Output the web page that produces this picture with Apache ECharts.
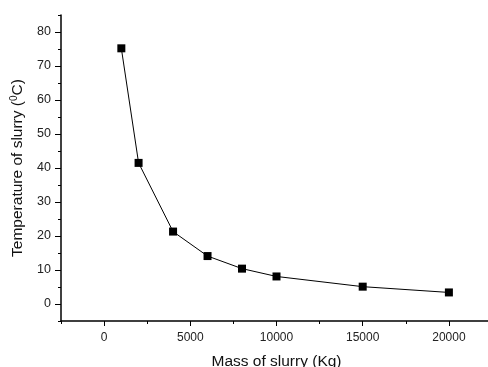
<!DOCTYPE html>
<html>
<head>
<meta charset="utf-8">
<script src="https://cdn.jsdelivr.net/npm/echarts@6/dist/echarts.min.js"></script>
<style>
  html, body { margin: 0; padding: 0; background: #fff; }
  #chart { width: 488px; height: 367px; }
</style>
</head>
<body>
<div id="chart"></div>
<script>
// mass of slurry (kg) vs temperature of slurry (°C)
const massKg = [1000, 2000, 4000, 6000, 8000, 10000, 15000, 20000]
const tempC = [75.2, 41.5, 21.3, 14.1, 10.4, 8.1, 5.1, 3.4]

const xMajorTicks = [0, 5000, 10000, 15000, 20000]
const xMinorTicks = [-2500, 2500, 7500, 12500, 17500]
const yMajorTicks = [0, 10, 20, 30, 40, 50, 60, 70, 80]
const yMinorTicks = [-5, 5, 15, 25, 35, 45, 55, 65, 75, 85]

const font = 'Liberation Sans, Arial, sans-serif'
const axisCol = '#000'

const chart = echarts.init(document.getElementById('chart'), null, { renderer: 'canvas' })

const xBase = { type: 'value', min: -2500, max: 22500, position: 'bottom', splitLine: { show: false } }
const yBase = { type: 'value', min: -5, max: 85, position: 'left', splitLine: { show: false } }

chart.setOption({
  animation: false,
  backgroundColor: '#fff',
  grid: { left: 61, right: -4, top: 15, bottom: 46, outerBoundsMode: 'none', containLabel: false },
  xAxis: [
    {
      ...xBase,
      name: 'Mass of slurry (Kg)',
      nameLocation: 'middle',
      nameGap: 33,
      nameTextStyle: { fontFamily: font, fontSize: 15.5, color: '#111' },
      axisLine: { onZero: false, lineStyle: { color: axisCol, width: 1.5 } },
      axisTick: { inside: false, length: 5, customValues: xMajorTicks, lineStyle: { color: axisCol } },
      axisLabel: {
        customValues: xMajorTicks,
        margin: 11,
        fontFamily: font,
        fontSize: 12,
        color: '#222',
        formatter: (v) => String(v),
      },
    },
    {
      ...xBase,
      axisLine: { show: false, onZero: false },
      axisTick: { inside: false, length: 3, customValues: xMinorTicks, lineStyle: { color: axisCol } },
      axisLabel: { show: false },
    },
  ],
  yAxis: [
    {
      ...yBase,
      name: 'Temperature of slurry ({sup|0}C)',
      nameLocation: 'middle',
      nameGap: 31,
      nameRotate: 90,
      nameTextStyle: {
        fontFamily: font,
        fontSize: 15.5,
        color: '#111',
        rich: { sup: { fontFamily: font, fontSize: 10, verticalAlign: 'top', padding: [0, 0, 7, 0], color: '#111' } },
      },
      axisLine: { onZero: false, lineStyle: { color: axisCol, width: 1.5 } },
      axisTick: { inside: false, length: 6, customValues: yMajorTicks, lineStyle: { color: axisCol } },
      axisLabel: { customValues: yMajorTicks, margin: 10, fontFamily: font, fontSize: 12.5, color: '#222' },
    },
    {
      ...yBase,
      axisLine: { show: false, onZero: false },
      axisTick: { inside: false, length: 3, customValues: yMinorTicks, lineStyle: { color: axisCol } },
      axisLabel: { show: false },
    },
  ],
  series: [
    {
      type: 'line',
      xAxisIndex: 0,
      yAxisIndex: 0,
      data: massKg.map((m, i) => [m, tempC[i]]),
      symbol: 'rect',
      symbolSize: 8,
      itemStyle: { color: '#000' },
      lineStyle: { color: '#000', width: 1 },
    },
  ],
})
</script>
</body>
</html>
